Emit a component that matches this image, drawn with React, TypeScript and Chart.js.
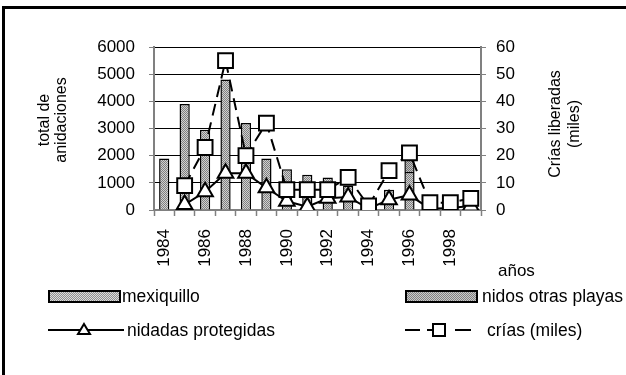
import React, { useEffect, useRef } from "react";
import { Chart, registerables } from "chart.js";

Chart.register(...registerables);

const years = ["1984", "1985", "1986", "1987", "1988", "1989", "1990", "1991", "1992", "1993", "1994", "1995", "1996", "1997", "1998", "1999"];
const mexiquillo = [1900, 3900, 2950, 4800, 3200, 1900, 1500, 1300, 1200, 900, 150, 750, 1400, 150, 100, 200];
const nidosOtrasPlayas = [0, 0, 0, 0, 0, 0, 0, 0, 0, 0, 0, 0, 500, 0, 0, 0];
const nidadasProtegidas = [null, 200, 670, 1350, 1350, 820, 320, 120, 430, 480, 50, 380, 550, 50, 70, 150];
const crias = [null, 9, 23, 55, 20, 32, 7.5, 7.5, 7.5, 12, 1.5, 14.5, 21, 2.7, 2.7, 4.3];
const leftTicks = [0, 1000, 2000, 3000, 4000, 5000, 6000];
const rightTicks = [0, 10, 20, 30, 40, 50, 60];

const FONT = "'Liberation Sans', Arial, sans-serif";

function makePattern(a: string, b: string) {
  const c = document.createElement("canvas");
  c.width = 2;
  c.height = 2;
  const g = c.getContext("2d")!;
  g.fillStyle = a;
  g.fillRect(0, 0, 2, 2);
  g.fillStyle = b;
  g.fillRect(0, 0, 1, 1);
  g.fillRect(1, 1, 1, 1);
  return g.createPattern(c, "repeat")!;
}

export default function App() {
  const ref = useRef<HTMLCanvasElement | null>(null);

  useEffect(() => {
    const canvas = ref.current!;
    const ctx = canvas.getContext("2d")!;
    const p1 = makePattern("#d0d0d0", "#808080");
    const p2 = makePattern("#c0c0c0", "#707070");
    const chart = new Chart(ctx, {
      data: {
        labels: years,
        datasets: [
          {
            type: "bar",
            label: "mexiquillo",
            data: mexiquillo,
            backgroundColor: p1 as any,
            borderColor: "#000",
            borderWidth: 1.5,
            yAxisID: "y",
            stack: "bars",
            order: 3,
            barPercentage: 0.5,
            categoryPercentage: 1,
          },
          {
            type: "bar",
            label: "nidos otras playas",
            data: nidosOtrasPlayas,
            backgroundColor: p2 as any,
            borderColor: "#000",
            borderWidth: 1.5,
            yAxisID: "y",
            stack: "bars",
            order: 3,
            barPercentage: 0.5,
            categoryPercentage: 1,
          },
          {
            type: "line",
            label: "nidadas protegidas",
            data: nidadasProtegidas as any,
            borderColor: "#000",
            borderWidth: 2,
            pointStyle: "triangle",
            pointRadius: 9,
            pointBackgroundColor: "#fff",
            pointBorderColor: "#000",
            pointBorderWidth: 2,
            yAxisID: "y",
            stack: "l1",
            order: 2,
            tension: 0,
            spanGaps: false,
          },
          {
            type: "line",
            label: "crías (miles)",
            data: crias as any,
            borderColor: "#000",
            borderWidth: 2,
            borderDash: [12, 7],
            pointStyle: "rect",
            pointRadius: 10.5,
            pointBackgroundColor: "#fff",
            pointBorderColor: "#000",
            pointBorderWidth: 2,
            yAxisID: "y1",
            order: 1,
            tension: 0,
          },
        ],
      } as any,
      options: {
        responsive: false,
        animation: false,
        devicePixelRatio: 1,
        layout: { padding: { top: 47, left: 0, right: 0, bottom: 0 } },
        plugins: { legend: { display: false }, tooltip: { enabled: false } },
        scales: {
          x: {
            stacked: true,
            offset: true,
            afterFit: (s: any) => {
              s.height = 165;
            },
            grid: {
              offset: true,
              drawOnChartArea: false,
              tickLength: 6,
              tickColor: "#808080",
              tickWidth: 1.5,
            },
            border: { color: "#808080", width: 2 },
            ticks: {
              autoSkip: false,
              minRotation: 90,
              maxRotation: 90,
              padding: 13,
              color: "#000",
              font: { family: FONT, size: 17 },
              callback: (_v: any, i: number) => (i % 2 === 0 ? years[i] : ""),
            },
          },
          y: {
            stacked: true,
            position: "left",
            min: leftTicks[0],
            max: leftTicks[leftTicks.length - 1],
            afterFit: (s: any) => {
              s.width = 154;
            },
            afterBuildTicks: (s: any) => {
              s.ticks = leftTicks.map((v) => ({ value: v }));
            },
            grid: {
              color: "#000",
              lineWidth: 1,
              tickLength: 5,
              tickColor: "#808080",
            },
            border: { color: "#808080", width: 2 },
            ticks: {
              padding: 14,
              color: "#000",
              font: { family: FONT, size: 17 },
              callback: (v: any) => String(v),
            },
          },
          y1: {
            position: "right",
            min: rightTicks[0],
            max: rightTicks[rightTicks.length - 1],
            afterFit: (s: any) => {
              s.width = 145;
            },
            afterBuildTicks: (s: any) => {
              s.ticks = rightTicks.map((v) => ({ value: v }));
            },
            grid: {
              drawOnChartArea: false,
              tickLength: 5,
              tickColor: "#808080",
            },
            border: { color: "#808080", width: 2 },
            ticks: {
              padding: 10,
              color: "#000",
              font: { family: FONT, size: 17 },
              callback: (v: any) => String(v),
            },
          },
        },
      } as any,
    });
    return () => chart.destroy();
  }, []);

  const text: React.CSSProperties = {
    position: "absolute",
    fontFamily: FONT,
    fontSize: 17.5,
    color: "#000",
    whiteSpace: "nowrap",
    lineHeight: "18px",
  };
  const swatch = (bg: string): React.CSSProperties => ({
    position: "absolute",
    width: 69,
    height: 9,
    border: "2px solid #000",
    background: bg,
  });
  const rotTitle = (cx: number, cy: number, lh: number): React.CSSProperties => ({
    ...text,
    fontSize: 16,
    lineHeight: `${lh}px`,
    textAlign: "center",
    width: 160,
    height: lh * 2,
    left: cx - 80,
    top: cy - lh,
    transform: "rotate(-90deg)",
    transformOrigin: "50% 50%",
  });

  return (
    <div
      style={{
        position: "fixed",
        left: 0,
        top: 0,
        width: 626,
        height: 375,
        overflow: "hidden",
        background: "#fff",
      }}
    >
      <div
        style={{
          position: "absolute",
          left: 2,
          top: 6,
          width: 800,
          height: 600,
          border: "3px solid #000",
        }}
      />
      <canvas ref={ref} width={626} height={375} style={{ position: "absolute", left: 0, top: 0 }} />
      {/* axis titles */}
      <div style={rotTitle(52, 120, 17)}>
        total de
        <br />
        anidaciones
      </div>
      <div style={rotTitle(564, 124, 19)}>
        Crías liberadas
        <br />
        (miles)
      </div>
      <div style={{ ...text, fontSize: 17, left: 498, top: 262 }}>años</div>
      {/* legend */}
      <div style={{ ...swatch("repeating-conic-gradient(#909090 0 25%, #dcdcdc 0 50%) 0 0/2px 2px"), left: 48, top: 290 }} />
      <div style={{ ...text, left: 122, top: 287 }}>mexiquillo</div>
      <div style={{ ...swatch("repeating-conic-gradient(#808080 0 25%, #c8c8c8 0 50%) 0 0/2px 2px"), left: 405, top: 290 }} />
      <div style={{ ...text, left: 482, top: 287 }}>nidos otras playas</div>
      <svg style={{ position: "absolute", left: 44, top: 320 }} width={84} height={20}>
        <line x1={4} y1={10} x2={80} y2={10} stroke="#000" strokeWidth={2} />
        <polygon points="40,4 46,14 34,14" fill="#fff" stroke="#000" strokeWidth={2} />
      </svg>
      <div style={{ ...text, left: 127, top: 321 }}>nidadas protegidas</div>
      <svg style={{ position: "absolute", left: 400, top: 320 }} width={84} height={20}>
        <line x1={5} y1={10} x2={20} y2={10} stroke="#000" strokeWidth={2} />
        <line x1={27} y1={10} x2={33} y2={10} stroke="#000" strokeWidth={2} />
        <rect x={33} y={4} width={12} height={12} fill="#fff" stroke="#000" strokeWidth={2} />
        <line x1={55} y1={10} x2={71} y2={10} stroke="#000" strokeWidth={2} />
      </svg>
      <div style={{ ...text, left: 487, top: 321 }}>crías (miles)</div>
    </div>
  );
}
